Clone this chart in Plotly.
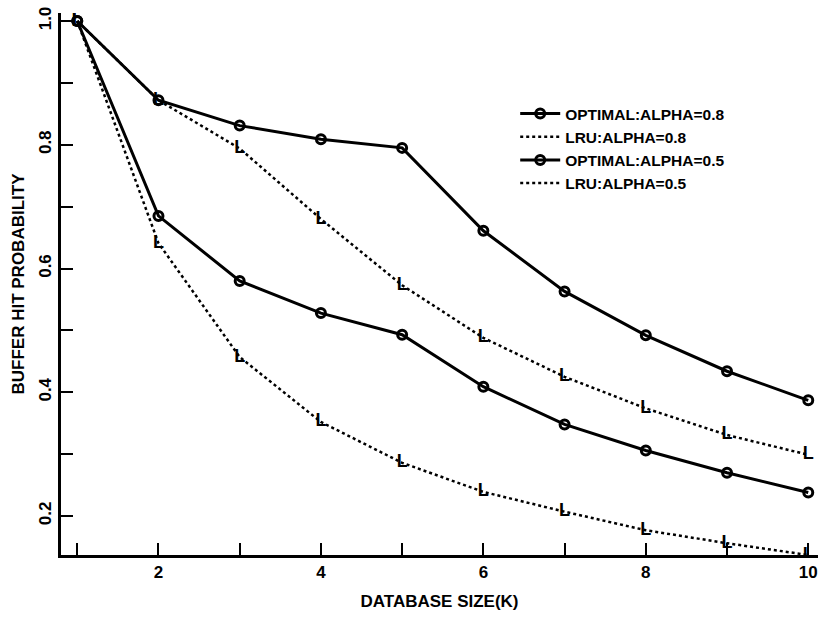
import plotly.graph_objects as go

db_size = [1, 2, 3, 4, 5, 6, 7, 8, 9, 10]
optimal_08 = [1.0, 0.872, 0.831, 0.809, 0.795, 0.661, 0.563, 0.492, 0.434, 0.387]
lru_08 = [1.0, 0.872, 0.794, 0.680, 0.573, 0.488, 0.425, 0.374, 0.331, 0.299]
optimal_05 = [1.0, 0.685, 0.580, 0.528, 0.493, 0.409, 0.348, 0.306, 0.270, 0.238]
lru_05 = [1.0, 0.641, 0.457, 0.352, 0.286, 0.239, 0.207, 0.177, 0.156, 0.137]

names = ["OPTIMAL:ALPHA=0.8", "LRU:ALPHA=0.8", "OPTIMAL:ALPHA=0.5", "LRU:ALPHA=0.5"]

FONT = "Liberation Sans Narrow, Liberation Sans, Arial, sans-serif"

fig = go.Figure()

def add_opt(y, name):
    fig.add_trace(go.Scatter(
        x=db_size, y=y, name=name, mode="lines+markers",
        line=dict(color="black", width=3),
        marker=dict(symbol="circle-open", size=9, color="black",
                    line=dict(color="black", width=3)),
    ))

def add_lru(y, name):
    fig.add_trace(go.Scatter(
        x=db_size, y=y, name=name, mode="lines+text",
        text=["L"] * len(db_size), textposition="middle center",
        textfont=dict(family=FONT, size=18, color="black", weight="bold"),
        line=dict(color="black", width=2.5, dash="dot"),
    ))

add_opt(optimal_08, names[0])
add_lru(lru_08, names[1])
add_opt(optimal_05, names[2])
add_lru(lru_05, names[3])

fig.update_layout(
    width=823, height=622,
    margin=dict(l=61, r=5, t=13, b=67),
    paper_bgcolor="white", plot_bgcolor="white",
    font=dict(family=FONT, size=16, color="black", weight="bold"),
    showlegend=True,
    legend=dict(x=0.6, y=0.845, xanchor="left", yanchor="top",
                bgcolor="rgba(0,0,0,0)", font=dict(size=15.5, weight="bold"),
                tracegroupgap=0, itemwidth=40),
    xaxis=dict(
        range=[0.8, 10.12], showgrid=False, zeroline=False,
        showline=True, linecolor="black", linewidth=3,
        tickmode="linear", tick0=0, dtick=2,
        ticks="inside", ticklen=12, tickwidth=2, tickcolor="black",
        minor=dict(dtick=1, tick0=0, ticks="inside", ticklen=12, tickwidth=2, tickcolor="black"),
        tickfont=dict(size=17, weight="bold"),
        title=dict(text="DATABASE SIZE(K)", font=dict(size=17, weight="bold"), standoff=14),
    ),
    yaxis=dict(
        range=[0.137, 1.013], showgrid=False, zeroline=False,
        showline=True, linecolor="black", linewidth=3,
        tickmode="linear", tick0=0.2, dtick=0.2, tickformat=".1f",
        ticks="inside", ticklen=12, tickwidth=2, tickcolor="black",
        minor=dict(dtick=0.1, tick0=0.1, ticks="inside", ticklen=12, tickwidth=2, tickcolor="black"),
        tickangle=-90,
        tickfont=dict(size=17, weight="bold"),
        title=dict(text="BUFFER HIT PROBABILITY", font=dict(size=17, weight="bold"), standoff=8),
    ),
)

fig.write_html("out.html")
